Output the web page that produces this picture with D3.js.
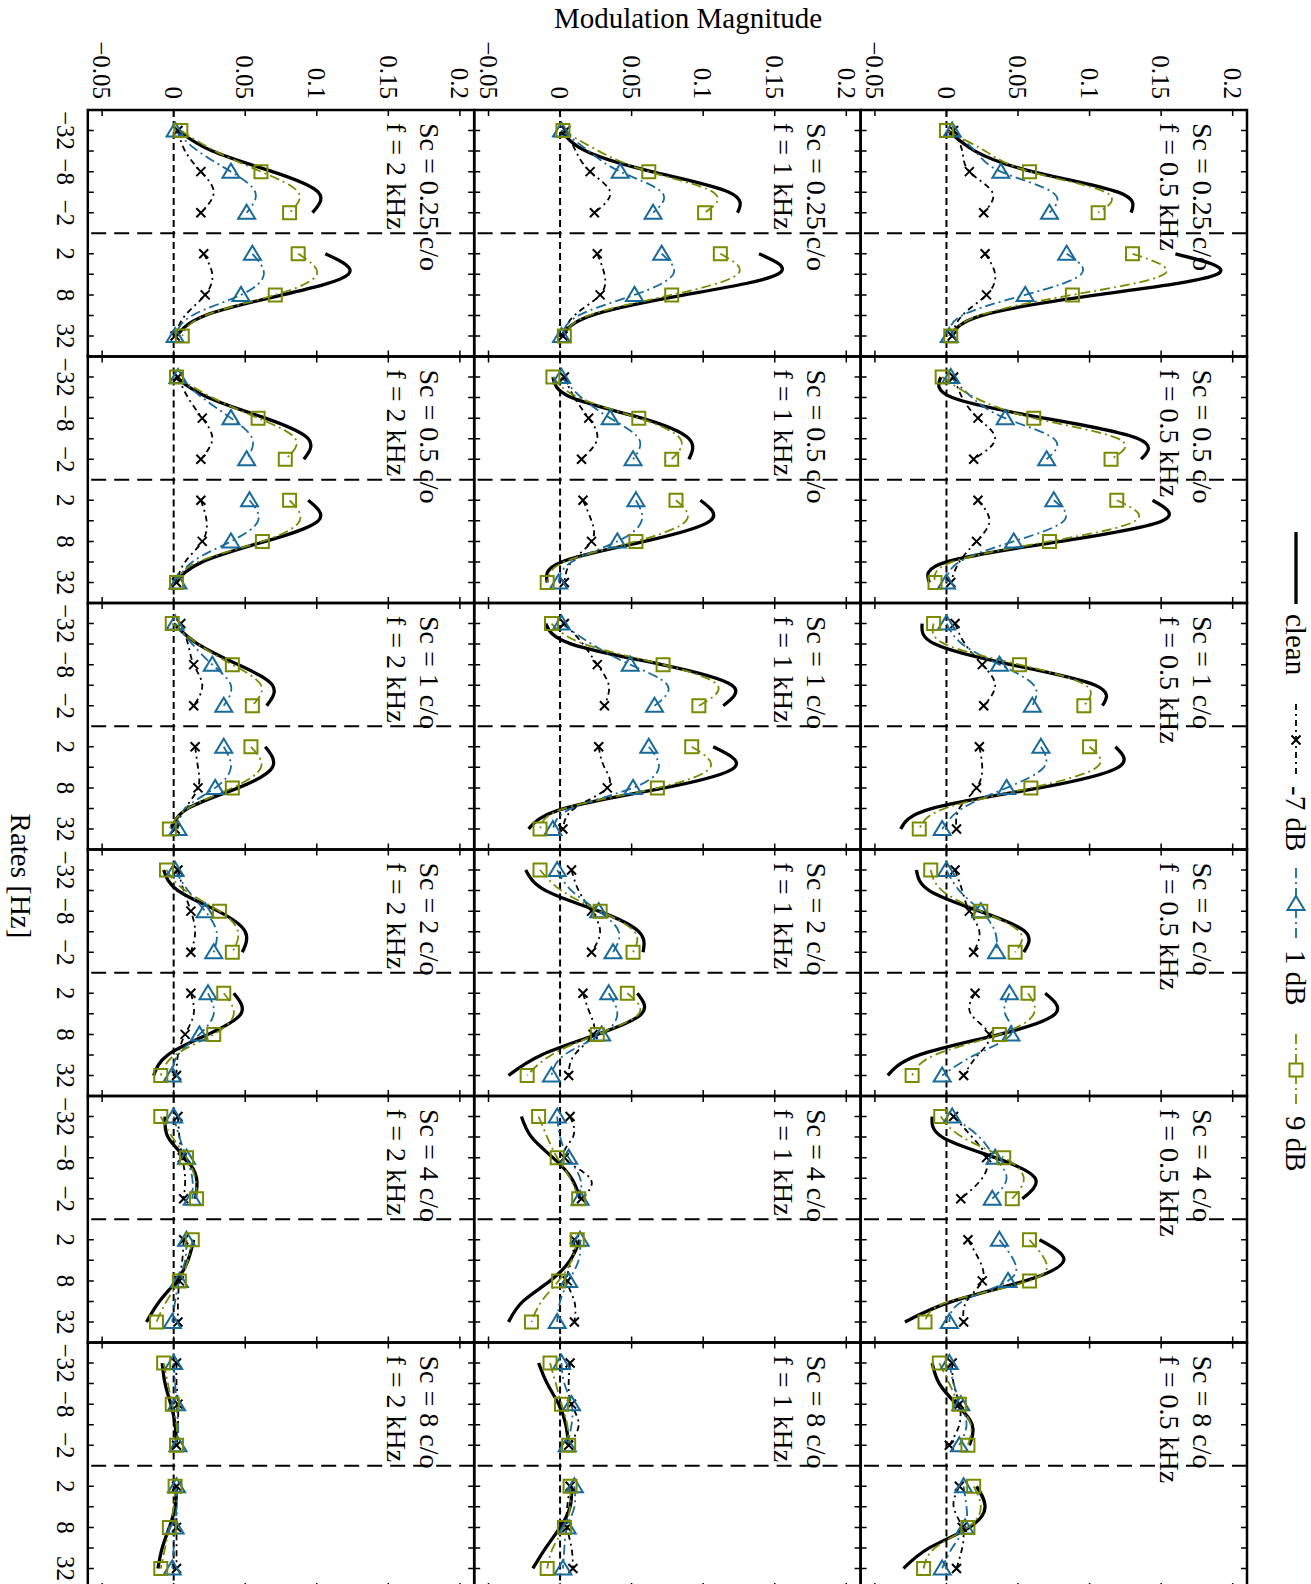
<!DOCTYPE html>
<html>
<head>
<meta charset="utf-8">
<script src="https://cdn.jsdelivr.net/npm/d3@7"></script>
<style>
  body { margin: 0; background: #fff; }
  text { font-family: 'Liberation Serif', 'DejaVu Serif', serif; fill: #000; }
</style>
</head>
<body>
<div id="root"></div>
<script>
// panel grid: rows are carrier frequencies, columns are scales
const freqLabels = ['0.5', '1', '2'];
const scaleLabels = ['0.25', '0.5', '1', '2', '4', '8'];

// rate axis: position = sign * log2(|rate|)
const ratePositions = [-5, -4, -3, -2, -1, 1, 2, 3, 4, 5];
const rateTickPositions = [-5, -4, -3, -2, -1, 1, 2, 3, 4, 5];
const rateLabelPositions = [-5, -3, -1, 1, 3, 5];
const rateLabels = ['\u221232', '\u22128', '\u22122', '2', '8', '32'];
const markerPositions = [-5, -3, -1, 1, 3, 5];

const magnitudeTicks = [-0.05, 0, 0.05, 0.1, 0.15, 0.2];
const magnitudeLabels = ['\u22120.05', '0', '0.05', '0.1', '0.15', '0.2'];

const seriesNames = ['clean', '-7 dB', '1 dB', '9 dB'];

// one row per panel (f = 0.5, 1, 2 kHz; Sc = 0.25 ... 8 c/o), values at ratePositions
const cleanValues = [
  [0.001, 0.020, 0.060, 0.120, 0.129, 0.160, 0.189, 0.105, 0.025, 0.003],
  [-0.004, 0.004, 0.068, 0.134, 0.136, 0.144, 0.151, 0.080, 0.000, -0.012],
  [-0.017, -0.008, 0.045, 0.104, 0.109, 0.118, 0.120, 0.065, -0.010, -0.032],
  [-0.021, -0.012, 0.023, 0.055, 0.054, 0.069, 0.076, 0.037, -0.019, -0.041],
  [-0.010, -0.003, 0.034, 0.062, 0.053, 0.065, 0.082, 0.055, 0.004, -0.029],
  [-0.010, -0.005, 0.007, 0.018, 0.016, 0.021, 0.027, 0.016, -0.012, -0.030],
  [0.001, 0.018, 0.064, 0.118, 0.124, 0.139, 0.152, 0.087, 0.022, 0.001],
  [-0.005, 0.008, 0.057, 0.090, 0.090, 0.098, 0.105, 0.059, 0.001, -0.009],
  [-0.010, 0.008, 0.071, 0.120, 0.114, 0.107, 0.122, 0.073, 0.003, -0.022],
  [-0.024, -0.010, 0.027, 0.055, 0.058, 0.054, 0.057, 0.026, -0.013, -0.036],
  [-0.027, -0.020, -0.005, 0.008, 0.014, 0.014, 0.007, -0.007, -0.026, -0.036],
  [-0.015, -0.009, -0.001, 0.004, 0.006, 0.008, 0.007, 0.000, -0.010, -0.019],
  [0.003, 0.027, 0.069, 0.101, 0.097, 0.106, 0.122, 0.076, 0.022, 0.002],
  [0.001, 0.024, 0.064, 0.094, 0.091, 0.094, 0.101, 0.064, 0.020, 0.001],
  [0.000, 0.017, 0.045, 0.069, 0.065, 0.064, 0.069, 0.045, 0.010, -0.001],
  [-0.007, 0.003, 0.031, 0.050, 0.048, 0.042, 0.047, 0.024, -0.004, -0.014],
  [-0.006, -0.004, 0.008, 0.016, 0.015, 0.014, 0.010, 0.002, -0.010, -0.019],
  [-0.008, -0.006, -0.002, 0.001, 0.002, 0.002, 0.001, -0.003, -0.008, -0.011],
];

const minus7dBValues = [
  [0.005, 0.011, 0.016, 0.032, 0.026, 0.027, 0.034, 0.028, 0.011, 0.004],
  [0.005, 0.011, 0.022, 0.034, 0.019, 0.022, 0.030, 0.021, 0.009, 0.003],
  [0.006, 0.013, 0.025, 0.034, 0.026, 0.023, 0.025, 0.021, 0.009, 0.007],
  [0.006, 0.011, 0.016, 0.023, 0.019, 0.020, 0.017, 0.030, 0.022, 0.012],
  [0.005, 0.018, 0.028, 0.025, 0.010, 0.015, 0.023, 0.025, 0.014, 0.012],
  [0.004, 0.005, 0.009, 0.009, 0.002, 0.009, 0.005, 0.011, 0.011, 0.007],
  [0.004, 0.011, 0.021, 0.035, 0.024, 0.026, 0.031, 0.028, 0.010, 0.002],
  [0.003, 0.010, 0.020, 0.026, 0.015, 0.016, 0.022, 0.022, 0.008, 0.003],
  [0.003, 0.016, 0.026, 0.034, 0.031, 0.027, 0.031, 0.033, 0.010, 0.002],
  [0.008, 0.013, 0.022, 0.028, 0.022, 0.016, 0.021, 0.023, 0.010, 0.006],
  [0.007, 0.009, 0.003, 0.021, 0.015, 0.010, 0.008, 0.005, 0.010, 0.010],
  [0.007, 0.006, 0.008, 0.013, 0.006, 0.007, 0.005, 0.005, 0.008, 0.009],
  [0.003, 0.008, 0.019, 0.028, 0.019, 0.021, 0.027, 0.022, 0.008, 0.001],
  [0.003, 0.010, 0.020, 0.027, 0.019, 0.019, 0.023, 0.020, 0.008, 0.002],
  [0.005, 0.010, 0.014, 0.020, 0.014, 0.015, 0.017, 0.017, 0.008, 0.001],
  [0.003, 0.007, 0.012, 0.015, 0.012, 0.012, 0.014, 0.008, 0.003, 0.002],
  [0.003, 0.004, 0.006, 0.008, 0.007, 0.007, 0.006, 0.004, 0.003, 0.003],
  [0.002, 0.002, 0.003, 0.003, 0.002, 0.002, 0.002, 0.002, 0.002, 0.002],
];

const plus1dBValues = [
  [0.004, 0.020, 0.038, 0.074, 0.072, 0.084, 0.094, 0.055, 0.011, 0.002],
  [0.003, 0.018, 0.041, 0.075, 0.070, 0.075, 0.082, 0.047, 0.009, 0.000],
  [0.000, 0.011, 0.037, 0.061, 0.060, 0.066, 0.068, 0.042, 0.011, -0.003],
  [0.000, 0.009, 0.024, 0.034, 0.035, 0.044, 0.041, 0.045, 0.020, -0.003],
  [0.004, 0.023, 0.034, 0.042, 0.032, 0.037, 0.047, 0.043, 0.011, 0.002],
  [0.002, 0.005, 0.010, 0.014, 0.009, 0.012, 0.014, 0.013, 0.004, -0.003],
  [0.001, 0.020, 0.042, 0.071, 0.065, 0.071, 0.079, 0.052, 0.013, 0.001],
  [0.001, 0.015, 0.035, 0.055, 0.051, 0.053, 0.057, 0.040, 0.008, -0.001],
  [0.001, 0.022, 0.049, 0.075, 0.066, 0.062, 0.069, 0.051, 0.008, -0.005],
  [-0.002, 0.008, 0.027, 0.041, 0.037, 0.034, 0.040, 0.029, 0.003, -0.006],
  [-0.002, 0.000, 0.006, 0.014, 0.014, 0.014, 0.013, 0.006, 0.000, -0.002],
  [0.001, 0.003, 0.008, 0.008, 0.005, 0.010, 0.010, 0.005, 0.003, 0.002],
  [0.001, 0.017, 0.040, 0.057, 0.051, 0.055, 0.063, 0.047, 0.013, 0.001],
  [0.003, 0.020, 0.040, 0.055, 0.051, 0.053, 0.059, 0.040, 0.013, 0.003],
  [0.001, 0.013, 0.027, 0.040, 0.035, 0.035, 0.040, 0.029, 0.008, 0.003],
  [0.001, 0.010, 0.022, 0.030, 0.028, 0.024, 0.028, 0.018, 0.003, -0.001],
  [0.000, 0.004, 0.009, 0.013, 0.013, 0.009, 0.008, 0.004, 0.001, -0.001],
  [0.000, 0.001, 0.002, 0.003, 0.003, 0.002, 0.002, 0.001, 0.000, -0.001],
];

const plus9dBValues = [
  [0.000, 0.027, 0.058, 0.111, 0.106, 0.130, 0.152, 0.088, 0.023, 0.003],
  [-0.003, 0.020, 0.061, 0.120, 0.115, 0.119, 0.132, 0.072, 0.004, -0.008],
  [-0.009, -0.001, 0.051, 0.097, 0.096, 0.100, 0.105, 0.059, -0.001, -0.019],
  [-0.011, -0.003, 0.024, 0.051, 0.048, 0.057, 0.061, 0.037, -0.008, -0.024],
  [-0.004, 0.011, 0.040, 0.054, 0.046, 0.058, 0.069, 0.058, 0.002, -0.015],
  [-0.005, 0.002, 0.009, 0.017, 0.015, 0.019, 0.024, 0.015, -0.008, -0.016],
  [0.002, 0.027, 0.062, 0.107, 0.101, 0.112, 0.124, 0.078, 0.020, 0.003],
  [-0.005, 0.013, 0.055, 0.084, 0.078, 0.081, 0.088, 0.053, 0.003, -0.009],
  [-0.006, 0.017, 0.072, 0.110, 0.097, 0.092, 0.105, 0.068, 0.003, -0.014],
  [-0.014, 0.001, 0.028, 0.052, 0.051, 0.047, 0.055, 0.026, -0.006, -0.023],
  [-0.015, -0.009, -0.002, 0.007, 0.013, 0.012, 0.008, -0.001, -0.013, -0.020],
  [-0.007, -0.003, 0.001, 0.005, 0.006, 0.007, 0.007, 0.003, -0.005, -0.009],
  [0.005, 0.029, 0.061, 0.087, 0.081, 0.087, 0.100, 0.071, 0.022, 0.006],
  [0.002, 0.027, 0.059, 0.085, 0.078, 0.081, 0.088, 0.062, 0.017, 0.002],
  [-0.001, 0.017, 0.041, 0.061, 0.055, 0.054, 0.061, 0.041, 0.010, -0.003],
  [-0.005, 0.008, 0.032, 0.045, 0.041, 0.035, 0.042, 0.028, 0.001, -0.009],
  [-0.009, -0.001, 0.009, 0.015, 0.016, 0.013, 0.010, 0.004, -0.005, -0.012],
  [-0.007, -0.004, -0.001, 0.002, 0.002, 0.001, 0.000, -0.003, -0.006, -0.009],
];

const blue = '#186a9b';
const olive = '#7a8a00';

const series = [
  { name: seriesNames[0], values: cleanValues, color: '#000', width: 3.3, dash: null, marker: null },
  { name: seriesNames[1], values: minus7dBValues, color: '#000', width: 1.8, dash: '6,4,2,4', marker: 'cross' },
  { name: seriesNames[2], values: plus1dBValues, color: blue, width: 1.8, dash: '10,4,2,4', marker: 'triangle' },
  { name: seriesNames[3], values: plus9dBValues, color: olive, width: 1.8, dash: '10,4,2,4', marker: 'square' },
];

const svgWidth = 1311;
const svgHeight = 1584;

// the figure is laid out in its own frame and then turned a quarter turn clockwise
const panelLeft = 110;
const panelTop = 64;
const panelW = 246.5;
const panelH = 386.4;
const tickLen = 6;

const svg = d3.select('#root').append('svg')
  .attr('width', svgWidth)
  .attr('height', svgHeight);

svg.append('rect')
  .attr('width', svgWidth)
  .attr('height', svgHeight)
  .attr('fill', '#fff');

const fig = svg.append('g')
  .attr('transform', `translate(${svgWidth}, 0) rotate(90)`);

const markerPaths = {
  cross: 'M-4.5,-4.5L4.5,4.5M-4.5,4.5L4.5,-4.5',
  triangle: 'M-8,0L6,-8.5L6,8.5Z',
  square: 'M-6.5,-6.5H6.5V6.5H-6.5Z',
};

freqLabels.forEach((freq, r) => {
  const yScale = d3.scaleLinear()
    .domain([-0.06, 0.21])
    .range([panelTop + (r + 1) * panelH, panelTop + r * panelH]);
  const [y1, y0] = yScale.range();

  scaleLabels.forEach((sc, c) => {
    const xScale = d3.scaleLinear()
      .domain([-6, 6])
      .range([panelLeft + c * panelW, panelLeft + (c + 1) * panelW]);
    const [x0, x1] = xScale.range();
    const panel = fig.append('g').attr('class', 'panel');
    const k = r * scaleLabels.length + c;

    // zero lines
    panel.append('line')
      .attr('x1', x0).attr('x2', x1)
      .attr('y1', yScale(0)).attr('y2', yScale(0))
      .attr('stroke', '#000')
      .attr('stroke-width', 2)
      .attr('stroke-dasharray', '7,4');

    panel.append('line')
      .attr('x1', xScale(0)).attr('x2', xScale(0))
      .attr('y1', y0).attr('y2', y1)
      .attr('stroke', '#000')
      .attr('stroke-width', 2)
      .attr('stroke-dasharray', '15,8');

    const line = d3.line()
      .x(d => xScale(d.rate))
      .y(d => yScale(d.value))
      .curve(d3.curveNatural);

    series.forEach(s => {
      const points = ratePositions.map((rate, i) => ({ rate, value: s.values[k][i] }));
      [points.filter(d => d.rate < 0), points.filter(d => d.rate > 0)].forEach(seg => {
        panel.append('path')
          .attr('d', line(seg))
          .attr('fill', 'none')
          .attr('stroke', s.color)
          .attr('stroke-width', s.width)
          .attr('stroke-dasharray', s.dash);
      });
    });

    series.filter(s => s.marker).forEach(s => {
      const points = ratePositions
        .map((rate, i) => ({ rate, value: s.values[k][i] }))
        .filter(d => markerPositions.includes(d.rate));
      panel.selectAll(null)
        .data(points)
        .enter()
        .append('path')
        .attr('transform', d => `translate(${xScale(d.rate)}, ${yScale(d.value)})`)
        .attr('d', markerPaths[s.marker])
        .attr('fill', 'none')
        .attr('stroke', s.color)
        .attr('stroke-width', 2);
    });

    // frame and ticks
    panel.append('rect')
      .attr('x', x0).attr('y', y0)
      .attr('width', x1 - x0).attr('height', y1 - y0)
      .attr('fill', 'none')
      .attr('stroke', '#000')
      .attr('stroke-width', 2.5);

    rateTickPositions.forEach(p => {
      panel.append('path')
        .attr('d', `M${xScale(p)},${y1}v${-tickLen}M${xScale(p)},${y0}v${tickLen}`)
        .attr('stroke', '#000')
        .attr('stroke-width', 1.5);
    });

    magnitudeTicks.forEach(v => {
      panel.append('path')
        .attr('d', `M${x0},${yScale(v)}h${tickLen}M${x1},${yScale(v)}h${-tickLen}`)
        .attr('stroke', '#000')
        .attr('stroke-width', 1.5);
    });

    panel.append('text')
      .attr('x', x0 + 13)
      .attr('y', y0 + 54)
      .attr('font-size', 28)
      .text(`Sc = ${sc} c/o`);

    panel.append('text')
      .attr('x', x0 + 13)
      .attr('y', y0 + 87)
      .attr('font-size', 28)
      .text(`f = ${freq} kHz`);

    if (c === 0) {
      magnitudeTicks.forEach((v, i) => {
        panel.append('text')
          .attr('x', x0 - 11)
          .attr('y', yScale(v))
          .attr('dy', '0.35em')
          .attr('text-anchor', 'end')
          .attr('font-size', 25)
          .text(magnitudeLabels[i]);
      });
    }

    if (r === freqLabels.length - 1) {
      rateLabelPositions.forEach((p, i) => {
        panel.append('text')
          .attr('x', xScale(p))
          .attr('y', y1 + 31)
          .attr('text-anchor', 'middle')
          .attr('font-size', 25)
          .text(rateLabels[i]);
      });
    }
  });
});

fig.append('text')
  .attr('transform', 'translate(28, 623) rotate(-90)')
  .attr('text-anchor', 'middle')
  .attr('font-size', 29)
  .text('Modulation Magnitude');

fig.append('text')
  .attr('x', 876)
  .attr('y', 1300)
  .attr('text-anchor', 'middle')
  .attr('font-size', 29)
  .text('Rates [Hz]');

// legend along the top edge
const legendStarts = [532, 704, 868, 1034];
const legendLineLen = 72;
const legend = fig.append('g').attr('class', 'legend');

series.forEach((s, i) => {
  const lx = legendStarts[i];
  const item = legend.append('g');
  item.append('line')
    .attr('x1', lx).attr('x2', lx + legendLineLen)
    .attr('y1', 15).attr('y2', 15)
    .attr('stroke', s.color)
    .attr('stroke-width', s.width)
    .attr('stroke-dasharray', s.dash);
  if (s.marker) {
    item.append('path')
      .attr('transform', `translate(${lx + legendLineLen / 2}, 15)`)
      .attr('d', markerPaths[s.marker])
      .attr('fill', '#fff')
      .attr('stroke', s.color)
      .attr('stroke-width', 2);
  }
  item.append('text')
    .attr('x', lx + legendLineLen + 10)
    .attr('y', 15)
    .attr('dy', '0.35em')
    .attr('font-size', 29)
    .text(s.name);
});
</script>
</body>
</html>
